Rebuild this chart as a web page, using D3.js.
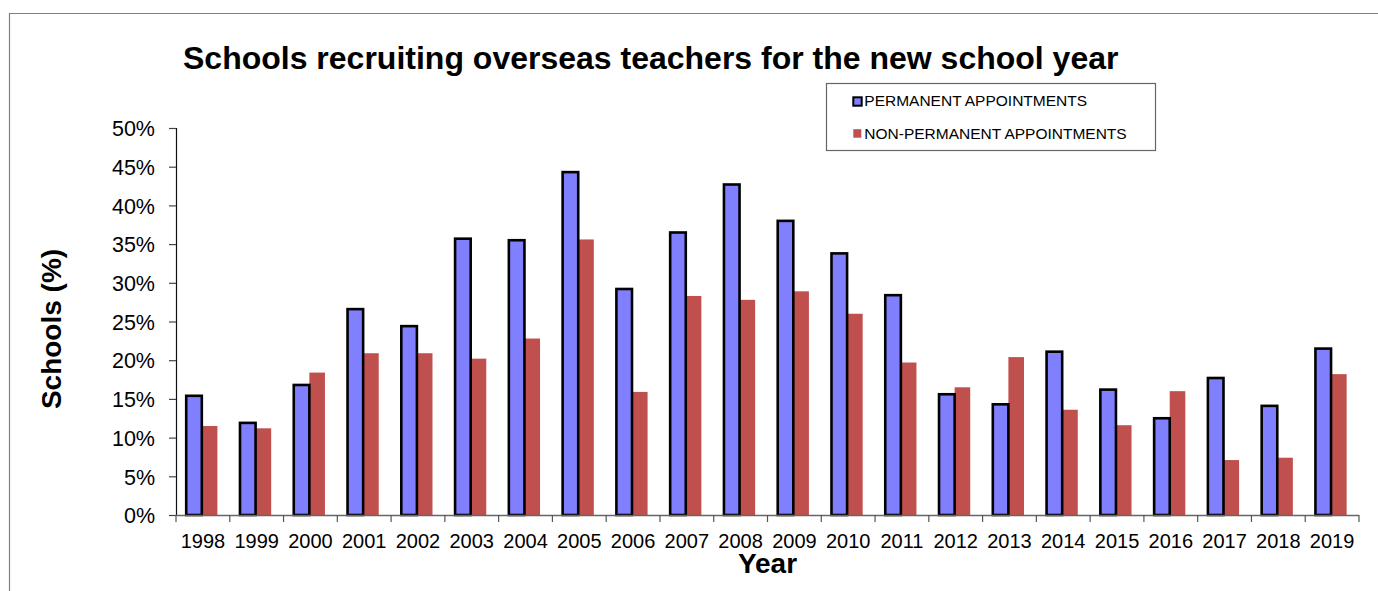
<!DOCTYPE html>
<html><head><meta charset="utf-8">
<script src="https://cdn.jsdelivr.net/npm/d3@7"></script>
<style>
html,body{margin:0;padding:0;background:#fff;}
svg{display:block;font-family:"Liberation Sans",Arial,sans-serif;}
</style></head>
<body>
<svg id="chart" width="1378" height="591"></svg>
<script>
const years = ["1998","1999","2000","2001","2002","2003","2004","2005","2006","2007","2008","2009","2010","2011","2012","2013","2014","2015","2016","2017","2018","2019"];
const permanent = [15.4,11.9,16.8,26.6,24.4,35.7,35.5,44.3,29.2,36.5,42.7,38.0,33.8,28.4,15.6,14.3,21.1,16.2,12.5,17.7,14.1,21.5];
const nonPermanent = [11.5,11.2,18.4,20.9,20.9,20.2,22.8,35.6,15.9,28.3,27.8,28.9,26.0,19.7,16.5,20.4,13.6,11.6,16.0,7.1,7.4,18.2];
const seriesNames = ["PERMANENT APPOINTMENTS","NON-PERMANENT APPOINTMENTS"];
const yTicks = [0,5,10,15,20,25,30,35,40,45,50];

(function(){
const svg = d3.select("#chart");
const mLeft = 176, mRight = 1359, mTop = 128, mBottom = 515;

// outer border (top and left visible)
svg.append("path").attr("d","M9.5,591 L9.5,13.5 L1378,13.5").attr("fill","none").attr("stroke","#808080").attr("stroke-width",1.2);

const x = d3.scaleBand().domain(years).range([mLeft,mRight]).paddingInner(0).paddingOuter(0);
const y = d3.scaleLinear().domain([0,50]).range([mBottom,mTop]);
const bw = x.bandwidth();
const x1 = d3.scaleBand().domain(["p","n"]).range([0.19*bw, 0.19*bw + 0.58*bw]).padding(0);

const data = years.map((yr,i)=>({year:yr,p:permanent[i],n:nonPermanent[i]}));

// bars
const g = svg.append("g");
g.selectAll("rect.n").data(data).join("rect").attr("class","n")
  .attr("x",d=>x(d.year)+x1("n")).attr("width",x1.bandwidth())
  .attr("y",d=>y(d.n)).attr("height",d=>mBottom-y(d.n))
  .attr("fill","#C0504D");
g.selectAll("rect.p").data(data).join("rect").attr("class","p")
  .attr("x",d=>x(d.year)+x1("p")).attr("width",x1.bandwidth())
  .attr("y",d=>y(d.p)).attr("height",d=>mBottom-y(d.p))
  .attr("fill","#8080FF").attr("stroke","#000").attr("stroke-width",2.6);

// y axis
const yAxis = d3.axisLeft(y).tickValues(yTicks).tickFormat(d=>d+"%").tickSize(7).tickPadding(14);
const ya = svg.append("g").attr("transform",`translate(${mLeft},0)`).call(yAxis);
ya.select(".domain").attr("stroke","#111").attr("stroke-width",1.2);
ya.selectAll(".tick line").attr("stroke","#444").attr("stroke-width",1.2);
ya.selectAll(".tick text").attr("font-size","21.5px").attr("fill","#000").attr("font-family","Liberation Sans, Arial, sans-serif").attr("dy","0.36em");

// x axis
const xa = svg.append("g").attr("transform",`translate(0,${mBottom})`)
  .call(d3.axisBottom(x).tickSize(0).tickPadding(0));
xa.select(".domain").attr("stroke","#666").attr("stroke-width",1.3).attr("d",`M${mLeft},0.5H${mRight}`);
xa.selectAll(".tick text").attr("font-size","20px").attr("fill","#000").attr("font-family","Liberation Sans, Arial, sans-serif").attr("y",32.5).attr("dy",0);
// category boundary ticks
const bounds = years.map(yr=>x(yr)).concat([mRight]);
svg.append("g").selectAll("line").data(bounds).join("line")
  .attr("x1",d=>d).attr("x2",d=>d).attr("y1",mBottom).attr("y2",mBottom+7)
  .attr("stroke","#555").attr("stroke-width",1.2);

// title
svg.append("text").attr("x",183).attr("y",69).attr("font-size","32px").attr("font-weight","bold")
  .attr("fill","#000").text("Schools recruiting overseas teachers for the new school year");

// axis titles
svg.append("text").attr("x",767.5).attr("y",572.5).attr("text-anchor","middle")
  .attr("font-size","28px").attr("font-weight","bold").text("Year");
svg.append("text").attr("transform","translate(61,329) rotate(-90)").attr("text-anchor","middle")
  .attr("font-size","28px").attr("font-weight","bold").text("Schools (%)");

// legend
const lg = svg.append("g");
lg.append("rect").attr("x",826.5).attr("y",83.5).attr("width",329).attr("height",67)
  .attr("fill","#fff").attr("stroke","#666").attr("stroke-width",1.2);
lg.append("rect").attr("x",853.3).attr("y",97.3).attr("width",8.4).attr("height",8.4)
  .attr("fill","#8080FF").attr("stroke","#000").attr("stroke-width",2);
lg.append("rect").attr("x",853.3).attr("y",129.2).attr("width",8).attr("height",8.5).attr("fill","#C0504D");
lg.append("text").attr("x",864.3).attr("y",106.3).attr("font-size","15.5px").attr("fill","#000").text(seriesNames[0]);
lg.append("text").attr("x",864.3).attr("y",138.7).attr("font-size","15.5px").attr("fill","#000").text(seriesNames[1]);
})();
</script>
</body></html>
